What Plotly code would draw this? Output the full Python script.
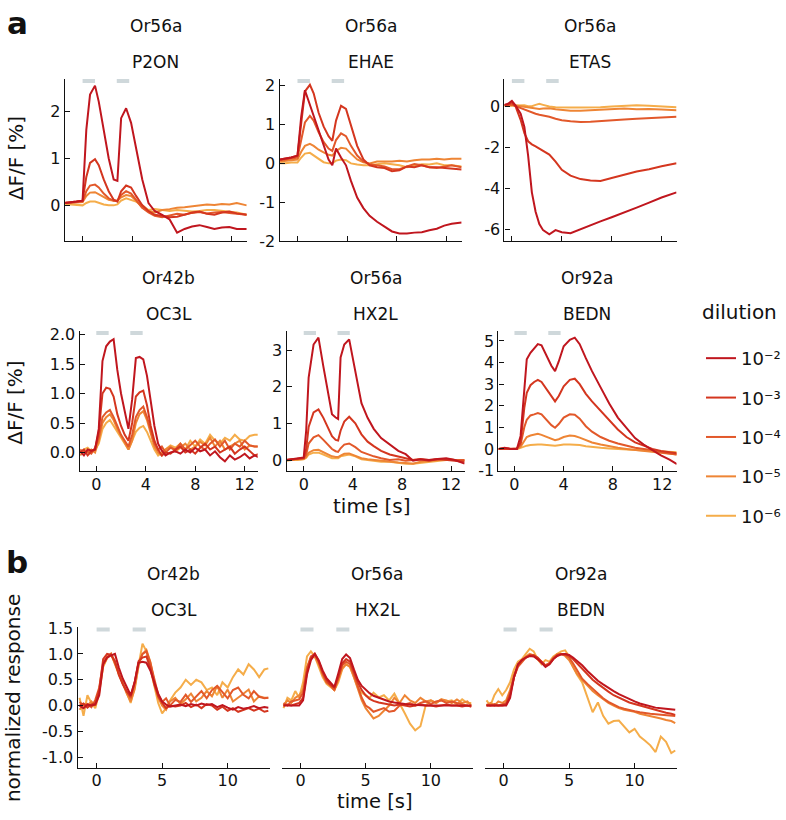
import plotly.graph_objects as go

W, H = 786, 820
FONT = "DejaVu Sans, Liberation Sans, Arial, sans-serif"

DILUTIONS = ["10⁻²", "10⁻³", "10⁻⁴", "10⁻⁵", "10⁻⁶"]
COLORS = ["#c0161e", "#d4361f", "#e2582a", "#ee8535", "#f5ad4a"]
STIM = [(0.0, 1.0), (2.75, 3.75)]

# ---------------- panel a, row 1 ----------------
t_p2on = [-1.4, -1.0, -0.5, 0.0, 0.3, 0.6, 1.0, 1.3, 1.7, 2.1, 2.5, 2.8, 3.1, 3.5, 3.9, 4.3, 4.8,
          5.3, 5.8, 6.4, 7.0, 7.6, 8.2, 8.8, 9.4, 10.0, 10.6, 11.2, 11.8, 12.4, 13.2]
p2on_e2 = [0.05, 0.07, 0.08, 0.1, 1.6, 2.35, 2.54, 2.2, 1.6, 1.0, 0.55, 0.52, 1.85, 2.06, 1.75, 1.2, 0.55,
           0.05, -0.12, -0.2, -0.3, -0.58, -0.5, -0.45, -0.42, -0.46, -0.5, -0.47, -0.46, -0.5, -0.5]
p2on_e3 = [0.05, 0.07, 0.08, 0.1, 0.6, 0.9, 0.98, 0.85, 0.55, 0.3, 0.12, 0.08, 0.3, 0.42, 0.38, 0.2, 0.0,
           -0.12, -0.2, -0.22, -0.25, -0.24, -0.2, -0.15, -0.13, -0.18, -0.2, -0.15, -0.13, -0.17, -0.2]
p2on_e4 = [0.05, 0.06, 0.07, 0.08, 0.3, 0.42, 0.44, 0.38, 0.25, 0.15, 0.1, 0.1, 0.22, 0.3, 0.25, 0.12, -0.05,
           -0.15, -0.22, -0.25, -0.22, -0.18, -0.2, -0.16, -0.14, -0.17, -0.15, -0.14, -0.16, -0.18, -0.2]
p2on_e5 = [0.06, 0.05, 0.06, 0.07, 0.2, 0.27, 0.28, 0.24, 0.18, 0.12, 0.1, 0.1, 0.17, 0.22, 0.2, 0.1, -0.05,
           -0.12, -0.15, -0.1, -0.08, -0.05, -0.04, -0.02, 0.0, 0.02, 0.01, 0.03, 0.02, 0.05, 0.0]
p2on_e6 = [0.03, 0.02, 0.0, 0.0, 0.05, 0.08, 0.08, 0.05, 0.02, 0.0, 0.0, 0.02, 0.1, 0.15, 0.12, 0.08, 0.0,
           -0.1, -0.08, -0.1, -0.12, -0.1, -0.12, -0.13, -0.12, -0.1, -0.1, -0.12, -0.13, -0.15, -0.2]

t_ehae = [-1.4, -1.0, -0.5, 0.0, 0.3, 0.6, 1.0, 1.3, 1.7, 2.1, 2.5, 2.8, 3.1, 3.5, 3.9, 4.3, 4.8,
          5.3, 5.8, 6.4, 7.0, 7.6, 8.2, 8.8, 9.4, 10.0, 10.6, 11.2, 11.8, 12.4, 13.2]
ehae_e2 = [0.1, 0.12, 0.15, 0.2, 1.2, 1.88, 1.5, 1.22, 0.85, 0.47, 0.1, -0.05, 0.38, 0.15, -0.05, -0.45, -0.88,
           -1.15, -1.35, -1.5, -1.62, -1.75, -1.8, -1.8, -1.78, -1.77, -1.72, -1.68, -1.6, -1.55, -1.52]
ehae_e3 = [0.1, 0.12, 0.15, 0.2, 1.0, 1.85, 2.02, 1.8, 1.3, 0.95, 0.7, 0.58, 1.1, 1.48, 1.4, 0.95, 0.45,
           0.1, -0.05, -0.1, -0.12, -0.2, -0.18, -0.08, -0.1, -0.05, -0.1, -0.1, -0.12, -0.14, -0.16]
ehae_e4 = [0.08, 0.1, 0.12, 0.15, 0.6, 1.05, 1.22, 1.1, 0.8, 0.55, 0.38, 0.32, 0.6, 0.77, 0.7, 0.45, 0.2,
           0.05, -0.02, -0.05, -0.08, -0.15, -0.15, -0.08, -0.02, -0.05, -0.1, -0.12, -0.08, -0.05, -0.1]
ehae_e5 = [0.05, 0.07, 0.08, 0.1, 0.3, 0.45, 0.5, 0.45, 0.35, 0.28, 0.22, 0.2, 0.32, 0.4, 0.38, 0.25, 0.1,
           0.03, 0.0, 0.05, 0.05, 0.05, 0.07, 0.05, 0.08, 0.1, 0.1, 0.12, 0.1, 0.12, 0.12]
ehae_e6 = [0.0, 0.0, 0.02, 0.02, 0.15, 0.25, 0.27, 0.2, 0.1, 0.03, 0.0, 0.0, 0.07, 0.1, 0.08, 0.0, -0.03,
           -0.05, -0.05, -0.02, 0.0, -0.02, -0.05, -0.1, -0.05, -0.02, -0.03, 0.0, -0.05, -0.05, -0.08]

t_etas = [-0.6, -0.3, 0.0, 0.3, 0.7, 1.0, 1.3, 1.6, 1.9, 2.2, 2.5, 3.0, 3.5, 4.0, 4.7, 5.5,
          6.3, 7.1, 8.0, 9.0, 10.0, 11.0, 12.0, 13.2]
etas_e2 = [0.08, 0.14, 0.28, 0.05, -0.35, -1.0, -2.4, -4.2, -5.15, -5.75, -6.05, -6.25, -6.05, -6.15, -6.2, -6.0,
           -5.8, -5.62, -5.42, -5.2, -4.95, -4.7, -4.45, -4.2]
etas_e3 = [0.08, 0.1, 0.2, 0.0, -0.65, -1.3, -1.7, -1.85, -1.95, -2.05, -2.15, -2.35, -2.7, -3.1, -3.38, -3.55,
           -3.62, -3.64, -3.5, -3.33, -3.18, -3.07, -2.92, -2.78]
etas_e4 = [0.06, 0.08, 0.1, 0.02, -0.08, -0.15, -0.22, -0.28, -0.35, -0.4, -0.43, -0.5, -0.6, -0.67, -0.72, -0.76,
           -0.74, -0.7, -0.66, -0.63, -0.6, -0.57, -0.52, -0.5]
etas_e5 = [0.05, 0.07, 0.08, 0.05, 0.02, -0.02, -0.06, -0.08, -0.1, -0.12, -0.1, -0.08, -0.13, -0.17, -0.2, -0.2,
           -0.18, -0.16, -0.14, -0.1, -0.13, -0.12, -0.15, -0.18]
etas_e6 = [0.04, 0.05, 0.06, 0.05, 0.08, 0.06, 0.02, 0.02, 0.08, 0.13, 0.08, 0.0, -0.03, -0.05, -0.05, -0.05,
           -0.05, -0.03, 0.0, 0.04, 0.06, 0.04, 0.0, -0.04]

# ---------------- panel a, row 2 ----------------
t_oc3l = [-1.3, -1.0, -0.7, -0.4, -0.1, 0.2, 0.5, 0.8, 1.1, 1.4, 1.7, 2.0, 2.3, 2.6, 2.9, 3.2, 3.5, 3.8,
          4.1, 4.4, 4.7, 5.0, 5.3, 5.6, 6.0, 6.4, 6.8, 7.2, 7.6, 8.0, 8.4, 8.8, 9.2, 9.6, 10.0, 10.4,
          10.8, 11.2, 11.6, 12.0, 12.4, 12.8, 13.1]
oc3l_e2 = [0.02, -0.05, 0.05, 0.03, 0.05, 0.4, 1.55, 1.8, 1.88, 1.92, 1.4, 1.0, 0.7, 0.4, 0.9, 1.6, 1.62, 1.58,
           1.3, 0.9, 0.45, 0.15, 0.03, -0.05, 0.0, 0.02, -0.02, 0.05, 0.0, 0.08, 0.02, 0.05, -0.05, 0.02,
           -0.08, -0.15, -0.05, -0.12, -0.08, -0.02, -0.1, -0.05, -0.08]
oc3l_e3 = [0.0, 0.05, -0.05, 0.02, 0.05, 0.35, 1.0, 1.1, 1.08, 0.95, 0.65, 0.45, 0.3, 0.2, 0.5, 0.95, 1.02, 1.05,
           0.8, 0.45, 0.2, 0.05, -0.05, 0.0, -0.02, 0.05, 0.1, 0.0, 0.05, -0.02, 0.08, 0.15, 0.05, 0.1,
           0.0, 0.05, 0.1, -0.02, 0.05, 0.1, 0.02, -0.05, -0.03]
oc3l_e4 = [0.05, 0.0, 0.02, -0.02, 0.08, 0.25, 0.6, 0.68, 0.72, 0.6, 0.45, 0.3, 0.2, 0.1, 0.3, 0.6, 0.72, 0.78,
           0.6, 0.35, 0.15, 0.05, 0.1, 0.0, 0.08, 0.05, 0.15, 0.05, 0.12, 0.2, 0.1, 0.05, 0.15, 0.22,
           0.1, 0.2, 0.05, 0.15, 0.1, 0.2, 0.12, 0.1, 0.1]
oc3l_e5 = [-0.05, 0.02, 0.0, 0.05, 0.0, 0.2, 0.5, 0.6, 0.65, 0.55, 0.4, 0.28, 0.15, 0.05, 0.2, 0.5, 0.65, 0.7,
           0.55, 0.3, 0.1, 0.0, -0.05, 0.05, 0.1, 0.02, 0.08, 0.15, 0.05, 0.1, 0.18, 0.12, 0.25, 0.1,
           0.2, 0.05, 0.1, 0.15, 0.2, 0.05, 0.12, 0.1, 0.1]
oc3l_e6 = [0.0, 0.05, 0.08, 0.02, 0.05, 0.15, 0.4, 0.5, 0.55, 0.45, 0.35, 0.25, 0.15, 0.05, 0.2, 0.35, 0.42, 0.45,
           0.35, 0.2, 0.05, -0.05, 0.0, 0.05, 0.12, 0.08, 0.15, 0.05, 0.2, 0.1, 0.22, 0.15, 0.3, 0.2,
           0.15, 0.25, 0.2, 0.3, 0.22, 0.2, 0.28, 0.3, 0.3]

t_hx2l = [-1.4, -1.0, -0.5, 0.0, 0.2, 0.4, 0.8, 1.2, 1.6, 2.0, 2.3, 2.6, 2.8, 3.0, 3.3, 3.7, 4.2,
          4.7, 5.2, 5.7, 6.3, 7.0, 7.7, 8.3, 8.9, 9.5, 10.2, 10.9, 11.6, 12.3, 13.1]
hx2l_e2 = [0.0, 0.02, 0.05, 0.07, 0.8, 2.25, 3.15, 3.34, 2.55, 1.8, 1.25, 1.16, 1.12, 2.8, 3.15, 3.29, 2.43,
           1.55, 1.15, 0.85, 0.6, 0.42, 0.25, 0.16, -0.02, 0.02, 0.0, 0.03, 0.05, 0.0, -0.1]
hx2l_e3 = [0.0, 0.02, 0.03, 0.05, 0.3, 0.9, 1.3, 1.38, 1.15, 0.85, 0.65, 0.55, 0.53, 0.8, 1.05, 1.18, 1.0,
           0.7, 0.5, 0.38, 0.25, 0.15, 0.1, 0.05, 0.0, 0.02, -0.02, 0.03, 0.0, -0.03, -0.05]
hx2l_e4 = [0.0, 0.02, 0.03, 0.05, 0.15, 0.45, 0.62, 0.68, 0.55, 0.4, 0.3, 0.24, 0.22, 0.32, 0.42, 0.45, 0.35,
           0.22, 0.15, 0.1, 0.05, 0.0, 0.02, -0.02, 0.0, 0.02, 0.0, 0.02, 0.03, 0.0, 0.0]
hx2l_e5 = [0.0, 0.0, 0.02, 0.03, 0.08, 0.2, 0.27, 0.28, 0.22, 0.15, 0.1, 0.08, 0.08, 0.12, 0.17, 0.18, 0.12,
           0.05, 0.02, 0.0, -0.02, -0.05, -0.07, -0.08, -0.1, -0.05, -0.02, 0.0, 0.02, 0.0, 0.0]
hx2l_e6 = [-0.02, 0.0, 0.0, 0.02, 0.06, 0.15, 0.2, 0.2, 0.15, 0.1, 0.05, 0.05, 0.05, 0.1, 0.13, 0.15, 0.1,
           0.02, 0.0, -0.02, -0.05, -0.05, -0.08, -0.1, -0.1, -0.08, -0.05, -0.02, 0.0, 0.0, -0.02]

t_bedn = [-1.3, -0.8, -0.3, 0.2, 0.5, 0.8, 1.0, 1.3, 1.6, 1.9, 2.2, 2.6, 3.0, 3.3, 3.6, 4.0, 4.5,
          4.9, 5.3, 5.8, 6.3, 7.0, 7.7, 8.4, 9.1, 9.8, 10.5, 11.2, 11.9, 12.6, 13.2]
bedn_e2 = [0.0, 0.05, 0.0, 0.0, 0.6, 3.0, 4.15, 4.45, 4.65, 4.85, 4.8, 4.35, 3.85, 3.6, 4.05, 4.75, 5.05,
           5.15, 4.85, 4.2, 3.6, 2.85, 2.1, 1.45, 0.95, 0.5, 0.2, -0.05, -0.3, -0.5, -0.7]
bedn_e3 = [0.0, 0.02, 0.0, 0.02, 0.3, 1.9, 2.6, 2.95, 3.1, 3.2, 3.1, 2.75, 2.4, 2.2, 2.45, 2.9, 3.2,
           3.25, 3.0, 2.55, 2.2, 1.75, 1.3, 0.9, 0.55, 0.3, 0.15, 0.0, -0.1, -0.15, -0.2]
bedn_e4 = [0.0, 0.0, 0.02, 0.02, 0.2, 1.0, 1.35, 1.55, 1.6, 1.66, 1.6, 1.35, 1.1, 0.98, 1.15, 1.45, 1.6,
           1.58, 1.4, 1.05, 0.8, 0.55, 0.38, 0.25, 0.15, 0.05, 0.0, -0.05, -0.15, -0.2, -0.26]
bedn_e5 = [0.0, 0.02, 0.0, 0.0, 0.1, 0.4, 0.55, 0.62, 0.65, 0.7, 0.65, 0.55, 0.45, 0.4, 0.45, 0.55, 0.62,
           0.6, 0.52, 0.4, 0.3, 0.2, 0.12, 0.05, 0.0, -0.05, -0.08, -0.12, -0.18, -0.22, -0.26]
bedn_e6 = [0.0, 0.0, 0.0, 0.0, 0.05, 0.12, 0.15, 0.18, 0.2, 0.2, 0.2, 0.18, 0.15, 0.15, 0.17, 0.2, 0.2,
           0.2, 0.18, 0.12, 0.08, 0.05, 0.02, 0.0, -0.02, -0.05, -0.08, -0.1, -0.12, -0.14, -0.15]

# ---------------- panel b (normalized) ----------------
t_norm = [-1.3, -1.0, -0.7, -0.4, -0.1, 0.2, 0.5, 0.8, 1.1, 1.4, 1.7, 2.0, 2.3, 2.6, 2.9, 3.2, 3.5, 3.8,
          4.1, 4.4, 4.7, 5.0, 5.3, 5.6, 6.0, 6.4, 6.8, 7.2, 7.6, 8.0, 8.4, 8.8, 9.2, 9.6, 10.0, 10.4,
          10.8, 11.2, 11.6, 12.0, 12.4, 12.8, 13.1]
n_oc3l_e2 = [0.0, -0.05, 0.02, 0.0, 0.02, 0.2, 0.8, 0.93, 0.97, 1.0, 0.73, 0.52, 0.36, 0.2, 0.45, 0.83, 0.85, 0.83,
             0.68, 0.47, 0.23, 0.08, 0.02, -0.02, 0.0, 0.02, -0.01, 0.03, 0.0, 0.04, 0.01, 0.03, -0.03, 0.01,
             -0.04, -0.08, -0.03, -0.06, -0.04, -0.01, -0.05, -0.03, -0.04]
n_oc3l_e3 = [0.0, 0.04, -0.04, 0.02, 0.04, 0.3, 0.9, 1.0, 0.98, 0.86, 0.59, 0.41, 0.27, 0.18, 0.45, 0.86, 0.93, 0.95,
             0.73, 0.41, 0.18, 0.05, -0.05, 0.0, -0.02, 0.0, 0.05, -0.03, 0.02, -0.05, 0.03, 0.0, -0.08, -0.02,
             -0.1, -0.05, -0.12, -0.08, -0.05, -0.1, -0.06, -0.12, -0.1]
n_oc3l_e4 = [0.07, 0.0, 0.03, -0.03, 0.11, 0.35, 0.83, 0.94, 1.0, 0.83, 0.63, 0.42, 0.28, 0.14, 0.42, 0.83, 1.0, 1.05,
             0.83, 0.49, 0.21, 0.07, 0.14, 0.0, 0.11, 0.07, 0.21, 0.07, 0.17, 0.28, 0.14, 0.3, 0.38, 0.25,
             0.14, 0.3, 0.35, 0.21, 0.14, 0.28, 0.17, 0.14, 0.15]
n_oc3l_e5 = [-0.08, 0.03, 0.0, 0.08, 0.0, 0.3, 0.77, 0.92, 1.0, 0.85, 0.62, 0.43, 0.23, 0.08, 0.31, 0.77, 1.0, 1.08,
             0.85, 0.46, 0.15, 0.0, -0.08, 0.08, 0.15, 0.03, 0.12, 0.23, 0.08, 0.15, 0.28, 0.18, 0.38, 0.15,
             0.31, 0.08, 0.15, 0.23, 0.31, 0.08, 0.18, 0.15, 0.15]
n_oc3l_e6 = [0.15, -0.2, 0.2, 0.05, -0.05, 0.25, 0.75, 0.92, 1.0, 0.8, 0.6, 0.45, 0.25, 0.05, 0.35, 0.8, 1.2, 1.05,
             0.7, 0.35, 0.05, -0.15, -0.05, 0.1, 0.25, 0.35, 0.5, 0.4, 0.5, 0.45, 0.3, 0.35, 0.2, 0.45,
             0.35, 0.55, 0.7, 0.6, 0.8, 0.7, 0.55, 0.7, 0.72]

n_hx2l_e2 = [0.0, 0.0, 0.0, 0.0, 0.0, 0.1, 0.6, 0.88, 1.0, 0.88, 0.68, 0.53, 0.44, 0.36, 0.62, 0.9, 0.99, 0.92,
             0.7, 0.5, 0.38, 0.3, 0.24, 0.19, 0.15, 0.11, 0.08, 0.06, 0.04, 0.03, 0.02, 0.01, 0.01, 0.0,
             0.0, 0.0, 0.0, 0.0, 0.0, 0.0, 0.0, 0.0, 0.0]
n_hx2l_e3 = [0.0, 0.02, 0.0, 0.03, 0.05, 0.15, 0.65, 0.92, 1.0, 0.85, 0.65, 0.5, 0.4, 0.35, 0.55, 0.82, 0.9, 0.85,
             0.65, 0.45, 0.3, 0.2, 0.13, 0.09, 0.06, 0.04, 0.02, 0.0, 0.02, 0.0, -0.02, 0.0, 0.02, 0.0,
             0.0, -0.02, 0.0, 0.02, 0.0, 0.0, -0.02, 0.0, -0.02]
n_hx2l_e4 = [0.05, 0.0, 0.08, 0.1, 0.12, 0.25, 0.72, 0.95, 1.0, 0.85, 0.62, 0.45, 0.4, 0.3, 0.55, 0.78, 0.85, 0.8,
             0.6, 0.35, 0.15, 0.0, -0.05, -0.12, -0.08, -0.05, -0.12, -0.1, 0.0, 0.02, 0.05, 0.0, 0.05, 0.08,
             0.03, 0.08, 0.1, 0.05, 0.08, 0.05, 0.02, 0.0, -0.02]
n_hx2l_e5 = [0.0, 0.1, 0.05, 0.15, 0.2, 0.3, 0.75, 0.92, 0.95, 0.8, 0.6, 0.45, 0.38, 0.3, 0.5, 0.72, 0.8, 0.75,
             0.55, 0.3, 0.1, -0.05, -0.15, -0.25, -0.2, -0.1, 0.0, 0.15, 0.05, 0.2, 0.1, 0.05, 0.15, 0.08,
             0.1, 0.05, 0.12, 0.1, 0.05, 0.12, 0.05, 0.08, 0.0]
n_hx2l_e6 = [-0.05, 0.15, 0.1, 0.28, 0.15, 0.45, 0.95, 1.05, 0.95, 0.75, 0.55, 0.42, 0.35, 0.3, 0.45, 0.7, 0.8, 0.75,
             0.55, 0.35, 0.25, 0.2, 0.15, 0.25, 0.16, 0.2, 0.1, 0.23, 0.05, -0.15, -0.35, -0.48, -0.4, 0.0,
             0.1, 0.05, 0.12, 0.08, 0.1, 0.02, 0.12, 0.05, 0.05]

n_bedn_e2 = [0.0, 0.0, 0.0, 0.0, 0.0, 0.0, 0.15, 0.55, 0.8, 0.88, 0.93, 0.96, 0.95, 0.9, 0.83, 0.75, 0.8, 0.9,
             0.96, 0.99, 1.0, 0.98, 0.93, 0.87, 0.78, 0.67, 0.57, 0.48, 0.41, 0.34, 0.28, 0.22, 0.17, 0.12,
             0.08, 0.04, 0.01, -0.02, -0.04, -0.05, -0.06, -0.07, -0.08]
n_bedn_e3 = [0.0, 0.0, 0.0, 0.0, 0.0, 0.02, 0.2, 0.55, 0.78, 0.88, 0.93, 0.97, 0.97, 0.93, 0.85, 0.77, 0.8, 0.9,
             0.97, 1.0, 1.0, 0.97, 0.9, 0.82, 0.72, 0.6, 0.5, 0.42, 0.34, 0.27, 0.2, 0.15, 0.1, 0.06,
             0.03, 0.0, -0.03, -0.06, -0.09, -0.12, -0.14, -0.16, -0.18]
n_bedn_e4 = [0.02, 0.0, 0.03, 0.0, 0.02, 0.05, 0.25, 0.55, 0.75, 0.85, 0.93, 0.98, 0.98, 0.92, 0.85, 0.78, 0.82, 0.92,
             0.98, 1.0, 0.98, 0.93, 0.82, 0.7, 0.52, 0.42, 0.32, 0.22, 0.14, 0.07, 0.02, -0.03, -0.06, -0.09,
             -0.11, -0.13, -0.15, -0.16, -0.17, -0.18, -0.19, -0.19, -0.2]
n_bedn_e5 = [0.0, 0.05, 0.0, 0.08, 0.05, 0.1, 0.3, 0.6, 0.78, 0.88, 0.95, 1.0, 0.97, 0.9, 0.82, 0.78, 0.82, 0.92,
             1.0, 1.0, 0.96, 0.88, 0.75, 0.62, 0.5, 0.38, 0.28, 0.2, 0.12, 0.05, 0.0, -0.05, -0.08, -0.1,
             -0.12, -0.16, -0.18, -0.2, -0.22, -0.25, -0.28, -0.3, -0.34]
n_bedn_e6 = [0.1, 0.0, 0.2, 0.32, 0.2, 0.3, 0.45, 0.7, 0.85, 0.9, 1.0, 1.1, 1.05, 0.9, 0.8, 0.88, 0.85, 0.95,
             1.0, 1.05, 1.07, 0.95, 0.75, 0.6, 0.45, 0.15, -0.13, 0.06, -0.2, -0.35, -0.3, -0.29, -0.4, -0.52,
             -0.45, -0.6, -0.68, -0.77, -0.9, -0.6, -0.7, -0.92, -0.87]

# ---------------- layout of the panels (target picture pixels) ----------------
panels = [
    dict(rec="Or56a", odor="P2ON", t=t_p2on, ys=[p2on_e2, p2on_e3, p2on_e4, p2on_e5, p2on_e6],
         box=(65, 77, 248, 240), xr=(-1.44, 13.2), yr=(-0.76, 2.69),
         yt=[0, 1, 2], ytt=["0", "1", "2"], xt=[0, 4, 8, 12], xtt=None, yline=True, xstand=0),
    dict(rec="Or56a", odor="EHAE", t=t_ehae, ys=[ehae_e2, ehae_e3, ehae_e4, ehae_e5, ehae_e6],
         box=(281, 77, 464, 240), xr=(-1.44, 13.2), yr=(-2.0, 2.18),
         yt=[-2, -1, 0, 1, 2], ytt=["-2", "-1", "0", "1", "2"], xt=[0, 4, 8, 12], xtt=None, yline=True,
         xstand=0),
    dict(rec="Or56a", odor="ETAS", t=t_etas, ys=[etas_e2, etas_e3, etas_e4, etas_e5, etas_e6],
         box=(507, 77, 680, 240), xr=(-0.6, 13.2), yr=(-6.59, 1.37),
         yt=[-6, -4, -2, 0], ytt=["-6", "-4", "-2", "0"], xt=[0, 4, 8, 12], xtt=None, yline=True, xstand=0),
    dict(rec="Or42b", odor="OC3L", t=t_oc3l, ys=[oc3l_e2, oc3l_e3, oc3l_e4, oc3l_e5, oc3l_e6],
         box=(80, 330, 259, 470.7), xr=(-1.35, 13.05), yr=(-0.32, 2.06),
         yt=[0, 0.5, 1, 1.5, 2], ytt=["0.0", "0.5", "1.0", "1.5", "2.0"], xt=[0, 4, 8, 12],
         xtt=["0", "4", "8", "12"], yline=True, xstand=-2),
    dict(rec="Or56a", odor="HX2L", t=t_hx2l, ys=[hx2l_e2, hx2l_e3, hx2l_e4, hx2l_e5, hx2l_e6],
         box=(288, 330, 467, 470.7), xr=(-1.4, 13.1), yr=(-0.31, 3.52),
         yt=[0, 1, 2, 3], ytt=["0", "1", "2", "3"], xt=[0, 4, 8, 12], xtt=["0", "4", "8", "12"], yline=True,
         xstand=-2),
    dict(rec="Or92a", odor="BEDN", t=t_bedn, ys=[bedn_e2, bedn_e3, bedn_e4, bedn_e5, bedn_e6],
         box=(501, 330, 680, 470.7), xr=(-1.3, 13.17), yr=(-1.04, 5.46),
         yt=[-1, 0, 1, 2, 3, 4, 5], ytt=["-1", "0", "1", "2", "3", "4", "5"], xt=[0, 4, 8, 12],
         xtt=["0", "4", "8", "12"], yline=True, xstand=-2),
    dict(rec="Or42b", odor="OC3L", t=t_norm, ys=[n_oc3l_e2, n_oc3l_e3, n_oc3l_e4, n_oc3l_e5, n_oc3l_e6],
         box=(78, 627, 271, 768.3), xr=(-1.45, 13.2), yr=(-1.215, 1.515),
         yt=[-1, -0.5, 0, 0.5, 1, 1.5], ytt=["-1.0", "-0.5", "0.0", "0.5", "1.0", "1.5"], xt=[0, 5, 10],
         xtt=["0", "5", "10"], yline=True, xstand=-3),
    dict(rec="Or56a", odor="HX2L", t=t_norm, ys=[n_hx2l_e2, n_hx2l_e3, n_hx2l_e4, n_hx2l_e5, n_hx2l_e6],
         box=(283, 627, 475, 768.3), xr=(-1.45, 13.2), yr=(-1.215, 1.515),
         yt=[], ytt=[], xt=[0, 5, 10], xtt=["0", "5", "10"], yline=False, xstand=-3),
    dict(rec="Or92a", odor="BEDN", t=t_norm, ys=[n_bedn_e2, n_bedn_e3, n_bedn_e4, n_bedn_e5, n_bedn_e6],
         box=(487, 627, 680, 768.3), xr=(-1.45, 13.2), yr=(-1.215, 1.515),
         yt=[], ytt=[], xt=[0, 5, 10], xtt=["0", "5", "10"], yline=False, xstand=-3),
]

LEGEND_PANEL = 5

# the photographed page comes out slightly squeezed vertically; map target
# picture rows back to page rows
Y_SCALE, Y_OFF = 0.979, 7.3

fig = go.Figure()
layout = {}
shapes = []
annotations = []


def px_x(x):
    return x / W


def px_y(y):
    return 1 - ((y - Y_OFF) / Y_SCALE) / H


for i, p in enumerate(panels):
    k = i + 1
    xname = "xaxis" if k == 1 else f"xaxis{k}"
    yname = "yaxis" if k == 1 else f"yaxis{k}"
    xref = "x" if k == 1 else f"x{k}"
    yref = "y" if k == 1 else f"y{k}"
    l, t, r, b = p["box"]
    layout[xname] = dict(
        domain=[px_x(l), px_x(r)], range=list(p["xr"]), anchor=yref,
        showline=True, linecolor="#111", linewidth=1.2, ticks="inside", ticklen=5, tickwidth=1.2,
        tickcolor="#111", tickvals=p["xt"], ticktext=p["xtt"] if p["xtt"] else None,
        showticklabels=bool(p["xtt"]), ticklabelstandoff=p["xstand"],
        showgrid=False, zeroline=False, tickfont=dict(size=16, family=FONT, color="#111"),
        fixedrange=True,
    )
    layout[yname] = dict(
        domain=[px_y(b), px_y(t)], range=list(p["yr"]), anchor=xref,
        showline=p["yline"], linecolor="#111", linewidth=1.2,
        ticks="inside" if p["yline"] else "", ticklen=5, tickwidth=1.2, tickcolor="#111",
        tickvals=p["yt"], ticktext=p["ytt"], showticklabels=p["yline"],
        showgrid=False, zeroline=False, tickfont=dict(size=16, family=FONT, color="#111"),
        fixedrange=True,
    )
    # series: draw palest first so the darkest lies on top
    for j in reversed(range(5)):
        fig.add_trace(go.Scatter(
            x=p["t"], y=p["ys"][j], mode="lines", xaxis=xref, yaxis=yref,
            line=dict(color=COLORS[j], width=2),
            name=DILUTIONS[j], legendgroup=f"d{j}", legendrank=j + 1,
            showlegend=(i == LEGEND_PANEL), hoverinfo="skip",
        ))
    # stimulus bars
    for s0, s1 in STIM:
        shapes.append(dict(type="line", xref=xref, yref=f"{yref} domain", x0=s0, x1=s1,
                           y0=0.985, y1=0.985, line=dict(color="#cfd8db", width=4)))
    # titles
    cx = (l + r) / 2
    annotations.append(dict(text=p["rec"], x=px_x(cx), y=px_y(t - 53), xref="paper", yref="paper",
                            showarrow=False, xanchor="center", yanchor="middle",
                            font=dict(size=17, family=FONT, color="#111")))
    annotations.append(dict(text=p["odor"], x=px_x(cx), y=px_y(t - 17), xref="paper", yref="paper",
                            showarrow=False, xanchor="center", yanchor="middle",
                            font=dict(size=17, family=FONT, color="#111")))

extra_text = [
    ("<b>a</b>", 17.5, 21.5, 31, 0, "center"),
    ("<b>b</b>", 17.5, 562, 31, 0, "center"),
    ("ΔF/F [%]", 16, 157, 20, -90, "center"),
    ("ΔF/F [%]", 15, 402, 20, -90, "center"),
    ("normalized response", 13, 698, 20, -90, "center"),
    ("time [s]", 374, 505, 20, 0, "center"),
    ("time [s]", 377, 802, 19.5, 0, "center"),
    ("dilution", 704, 311, 20, 0, "left"),
]
for txt, x, y, size, ang, xa in extra_text:
    annotations.append(dict(text=txt, x=px_x(x), y=px_y(y), xref="paper", yref="paper",
                            showarrow=False, xanchor=xa, yanchor="middle", textangle=ang,
                            font=dict(size=size, family=FONT, color="#111")))

fig.update_layout(
    width=W, height=H, margin=dict(l=0, r=0, t=0, b=0),
    paper_bgcolor="white", plot_bgcolor="white",
    font=dict(family=FONT, color="#111"),
    shapes=shapes, annotations=annotations,
    showlegend=True,
    legend=dict(x=px_x(705), y=px_y(339), xanchor="left", yanchor="top",
                font=dict(size=18, family=FONT, color="#111"),
                tracegroupgap=13, traceorder="grouped", itemwidth=30,
                bgcolor="rgba(0,0,0,0)"),
    **layout,
)

fig.write_html(
    "out.html",
    config={"displayModeBar": False},
    post_script="document.body.style.margin='0';document.body.style.padding='0';"
                "document.documentElement.style.overflow='hidden';",
)
